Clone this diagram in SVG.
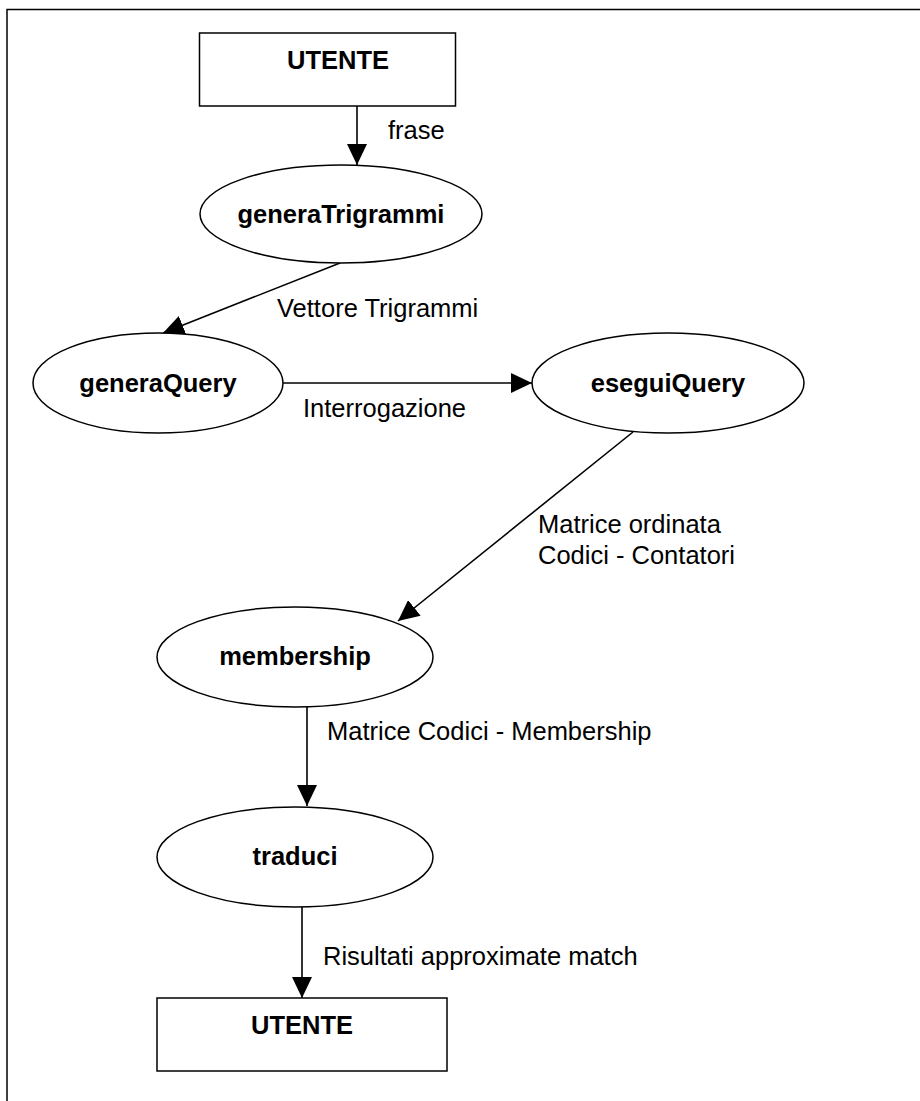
<svg xmlns="http://www.w3.org/2000/svg" width="920" height="1101" viewBox="0 0 920 1101">
  <style>
    .frame { fill: none; stroke: #000; stroke-width: 1.5; }
    .box { fill: #fff; stroke: #000; stroke-width: 1.5; }
    .proc { fill: #fff; stroke: #000; stroke-width: 1.5; }
    .edge { fill: none; stroke: #000; stroke-width: 1.6; marker-end: url(#arrow); }
    .name { font-family: "Liberation Sans", Arial, sans-serif; font-size: 25.5px; font-weight: bold; fill: #000; text-anchor: middle; }
    .label { font-family: "Liberation Sans", Arial, sans-serif; font-size: 25.5px; fill: #000; }
  </style>
  <defs>
    <marker id="arrow" viewBox="0 0 21 20" refX="21" refY="10" markerWidth="21" markerHeight="20" markerUnits="userSpaceOnUse" orient="auto">
      <path d="M0,0 L21,10 L0,20 Z" fill="#000"/>
    </marker>
  </defs>
  <rect width="920" height="1101" fill="#fff"/>

  <!-- page frame: top and left rules -->
  <path class="frame" d="M7,1101 L7,9.5 L920,9.5"/>

  <!-- connectors and their labels -->
  <g id="connectors">
    <line class="edge" x1="357" y1="106" x2="357" y2="165"/>
    <line class="edge" x1="340" y1="263" x2="163" y2="333"/>
    <line class="edge" x1="283" y1="383" x2="532" y2="383"/>
    <line class="edge" x1="633" y1="432" x2="398" y2="621"/>
    <line class="edge" x1="307" y1="707" x2="307" y2="806"/>
    <line class="edge" x1="302" y1="907" x2="302" y2="998"/>
    <text class="label" x="388" y="139">frase</text>
    <text class="label" x="277" y="317">Vettore Trigrammi</text>
    <text class="label" x="303" y="417">Interrogazione</text>
    <text class="label" x="538" y="533">Matrice ordinata</text>
    <text class="label" x="538" y="564">Codici - Contatori</text>
    <text class="label" x="327" y="740">Matrice Codici - Membership</text>
    <text class="label" x="323" y="965">Risultati approximate match</text>
  </g>

  <g id="utente-top">
    <rect class="box" x="199.5" y="33" width="256" height="73"/>
    <text class="name" x="338" y="69">UTENTE</text>
  </g>

  <g id="generaTrigrammi">
    <ellipse class="proc" cx="341" cy="214" rx="141" ry="49"/>
    <text class="name" x="341" y="223">generaTrigrammi</text>
  </g>

  <g id="generaQuery">
    <ellipse class="proc" cx="158" cy="383" rx="125" ry="50"/>
    <text class="name" x="158" y="392">generaQuery</text>
  </g>

  <g id="eseguiQuery">
    <ellipse class="proc" cx="668" cy="383" rx="136" ry="50"/>
    <text class="name" x="668" y="392">eseguiQuery</text>
  </g>

  <g id="membership">
    <ellipse class="proc" cx="295" cy="657" rx="138" ry="50"/>
    <text class="name" x="295" y="665">membership</text>
  </g>

  <g id="traduci">
    <ellipse class="proc" cx="295" cy="857" rx="138" ry="50"/>
    <text class="name" x="295" y="865">traduci</text>
  </g>

  <g id="utente-bottom">
    <rect class="box" x="157" y="998" width="290" height="73"/>
    <text class="name" x="302" y="1034">UTENTE</text>
  </g>
</svg>
